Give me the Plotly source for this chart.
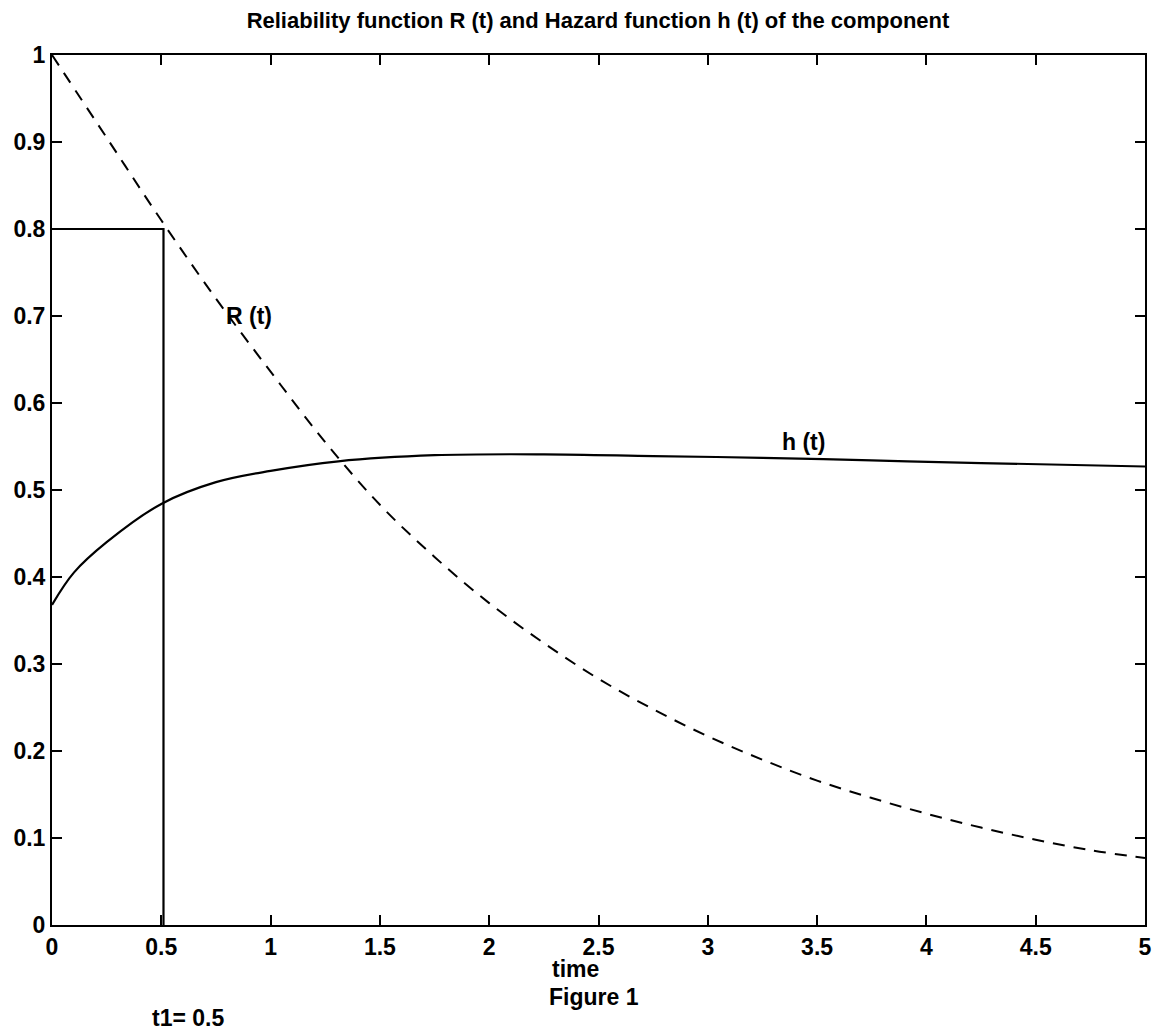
import plotly.graph_objects as go

# ---- data ----
t_R = [0, 0.25, 0.5, 0.75, 1.0, 1.25, 1.5, 1.75, 2.0, 2.25, 2.5, 2.75, 3.0,
       3.25, 3.5, 3.75, 4.0, 4.25, 4.5, 4.75, 5.0]
R_vals = [1.0, 0.905, 0.81, 0.72, 0.636, 0.555, 0.483, 0.423, 0.370, 0.324,
          0.283, 0.248, 0.217, 0.190, 0.166, 0.146, 0.128, 0.112, 0.098,
          0.086, 0.077]

t_h = [0, 0.1, 0.25, 0.5, 0.75, 1.0, 1.31, 1.75, 2.25, 2.75, 3.25, 3.75,
       4.25, 5.0]
h_vals = [0.368, 0.405, 0.44, 0.484, 0.509, 0.522, 0.533, 0.540, 0.541,
          0.539, 0.537, 0.534, 0.531, 0.527]

t1 = 0.51
R_t1 = 0.8

x_ticks = [0, 0.5, 1, 1.5, 2, 2.5, 3, 3.5, 4, 4.5, 5]
x_tick_labels = ["0", "0.5", "1", "1.5", "2", "2.5", "3", "3.5", "4", "4.5", "5"]
y_ticks = [0, 0.1, 0.2, 0.3, 0.4, 0.5, 0.6, 0.7, 0.8, 0.9, 1]
y_tick_labels = ["0", "0.1", "0.2", "0.3", "0.4", "0.5", "0.6", "0.7", "0.8", "0.9", "1"]

title_text = "Reliability function R (t) and Hazard function h (t) of the component"

FONT = "Liberation Sans, Arial, sans-serif"

fig = go.Figure()
fig.add_trace(go.Scatter(x=t_R, y=R_vals, mode="lines",
                         line=dict(color="black", width=2, dash="12px,9px", shape="spline"),
                         showlegend=False, hoverinfo="skip"))
fig.add_trace(go.Scatter(x=t_h, y=h_vals, mode="lines",
                         line=dict(color="black", width=2.2, shape="spline"),
                         showlegend=False, hoverinfo="skip"))
# t1 marker lines
fig.add_trace(go.Scatter(x=[0, t1, t1], y=[R_t1, R_t1, 0], mode="lines",
                         line=dict(color="black", width=2.2),
                         showlegend=False, hoverinfo="skip"))

ann_font = dict(family=FONT, size=23, color="black", weight="bold")
ann_common = dict(showarrow=False, font=ann_font, xanchor="center", yanchor="middle")
fig.add_annotation(x=0.9, y=0.70, xref="x", yref="y", text="R (t)", **ann_common)
fig.add_annotation(x=3.436, y=0.555, xref="x", yref="y", text="h (t)", **ann_common)
fig.add_annotation(x=0.479, y=-0.0506, xref="paper", yref="paper", text="time", **ann_common)
fig.add_annotation(x=0.496, y=-0.0828, xref="paper", yref="paper", text="Figure 1", **ann_common)
fig.add_annotation(x=0.1245, y=-0.1069, xref="paper", yref="paper", text="t1= 0.5", **ann_common)

axis_common = dict(showline=True, linecolor="black", linewidth=2, mirror="ticks",
                   ticks="inside", ticklen=10, tickwidth=2, tickcolor="black",
                   showgrid=False, zeroline=False,
                   tickfont=dict(family=FONT, size=23, color="black", weight="bold"))

fig.update_layout(
    width=1162, height=1033,
    margin=dict(l=52, r=10, t=55, b=108),
    paper_bgcolor="white", plot_bgcolor="white",
    title=dict(text=title_text, x=598 / 1162, xref="container", xanchor="center",
               y=1 - 20 / 1033, yref="container", yanchor="middle",
               font=dict(family=FONT, size=22, color="black", weight="bold")),
    xaxis=dict(range=[0, 5], tickvals=x_ticks, ticktext=x_tick_labels, **axis_common),
    yaxis=dict(range=[0, 1], tickvals=y_ticks, ticktext=y_tick_labels, **axis_common),
)

fig.write_html("out.html")
